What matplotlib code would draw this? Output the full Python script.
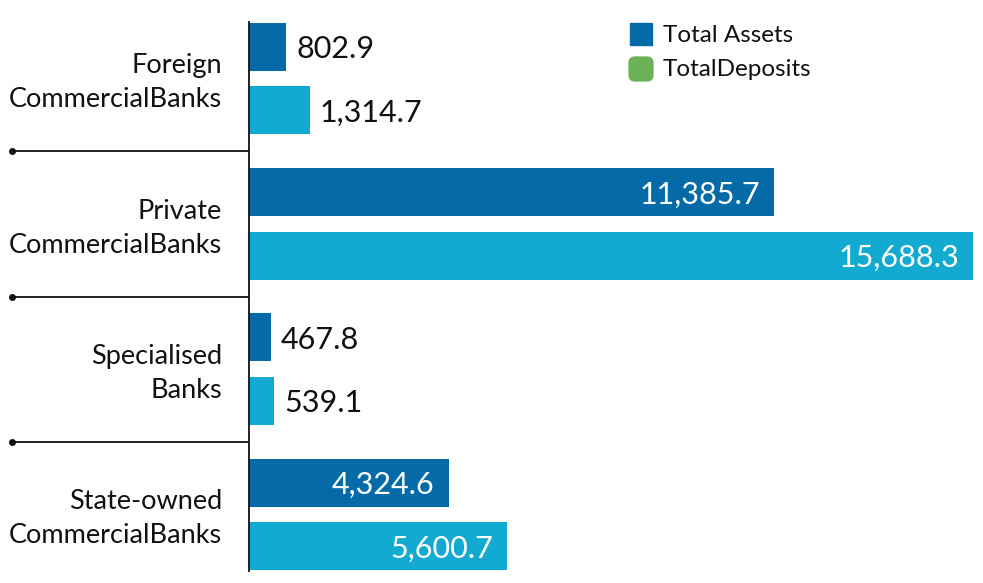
import matplotlib
matplotlib.use("Agg")
import matplotlib.pyplot as plt
from matplotlib.patches import FancyBboxPatch, Rectangle

categories = ["Foreign\nCommercialBanks", "Private\nCommercialBanks",
              "Specialised\nBanks", "State-owned\nCommercialBanks"]
total_assets = [802.9, 11385.7, 467.8, 4324.6]
total_deposits = [1314.7, 15688.3, 539.1, 5600.7]
series_names = ["Total Assets", "TotalDeposits"]

C_ASSETS = "#046BA8"
C_DEPOS = "#13AAD1"
C_LEGEND_GREEN = "#6AB158"

plt.rcParams['font.family'] = ['Lato', 'DejaVu Sans']

W, H = 983, 583
fig = plt.figure(figsize=(W / 100, H / 100), dpi=100)
ax_left, ax_right = 249, 983
ax_top, ax_bottom = 22, 571
ax = fig.add_axes([ax_left / W, (H - ax_bottom) / H,
                   (ax_right - ax_left) / W, (ax_bottom - ax_top) / H])

bh = 0.33
off = 0.2185
ys = list(range(len(categories)))
ax.barh([y - off for y in ys], total_assets, height=bh, color=C_ASSETS)
ax.barh([y + off for y in ys], total_deposits, height=bh, color=C_DEPOS)

ax.set_xlim(0, 15905)
ax.set_ylim(3.39, -0.39)

for s in ["top", "right", "bottom"]:
    ax.spines[s].set_visible(False)
ax.spines["left"].set_linewidth(1.3)
ax.spines["left"].set_color("#111111")
ax.set_xticks([])
ax.set_yticks([])

fs_val = 22
threshold = 2000
pad_out = 10 * 15905 / 734
pad_in = 14 * 15905 / 734
for vals, sign in ((total_assets, -1), (total_deposits, 1)):
    for y, v in zip(ys, vals):
        txt = f"{v:,.1f}"
        yy = y + sign * off
        if v > threshold:
            ax.text(v - pad_in, yy, txt, ha="right", va="center_baseline",
                    color="white", fontsize=fs_val)
        else:
            ax.text(v + pad_out, yy, txt, ha="left", va="center_baseline",
                    color="#111111", fontsize=fs_val)

# category labels
for y, c in zip(ys, categories):
    ax.text((222 - ax_left) / (ax_right - ax_left), y + 0.03, c,
            transform=ax.get_yaxis_transform(),
            ha="right", va="center", fontsize=19.5, color="#111111",
            linespacing=1.45)

# separators with dots
xt = ax.get_yaxis_transform()
x0 = (12 - ax_left) / (ax_right - ax_left)
for ysep in (0.5, 1.5, 2.5):
    ax.plot([x0, 0], [ysep, ysep], transform=xt, color="#111111", lw=1.3,
            clip_on=False, solid_capstyle="butt")
    ax.plot([x0], [ysep], transform=xt, marker="o", ms=4, color="#111111",
            clip_on=False)

# legend (manual)
def fx(px):
    return px / W

def fy(py):
    return (H - py) / H

fig.patches.append(Rectangle((fx(630), fy(45)), 22 / W, 22 / H,
                             transform=fig.transFigure, color=C_ASSETS))
fig.patches.append(FancyBboxPatch((fx(633), fy(77)), 16 / W, 16 / H,
                                  boxstyle="round,pad=0.004,rounding_size=0.006",
                                  transform=fig.transFigure,
                                  color=C_LEGEND_GREEN, mutation_aspect=W / H))
fig.text(fx(663), fy(36), series_names[0], ha="left", va="center",
         fontsize=17.5, color="#111111")
fig.text(fx(663), fy(70), series_names[1], ha="left", va="center",
         fontsize=17.5, color="#111111")

fig.savefig("out.png", dpi=100)
